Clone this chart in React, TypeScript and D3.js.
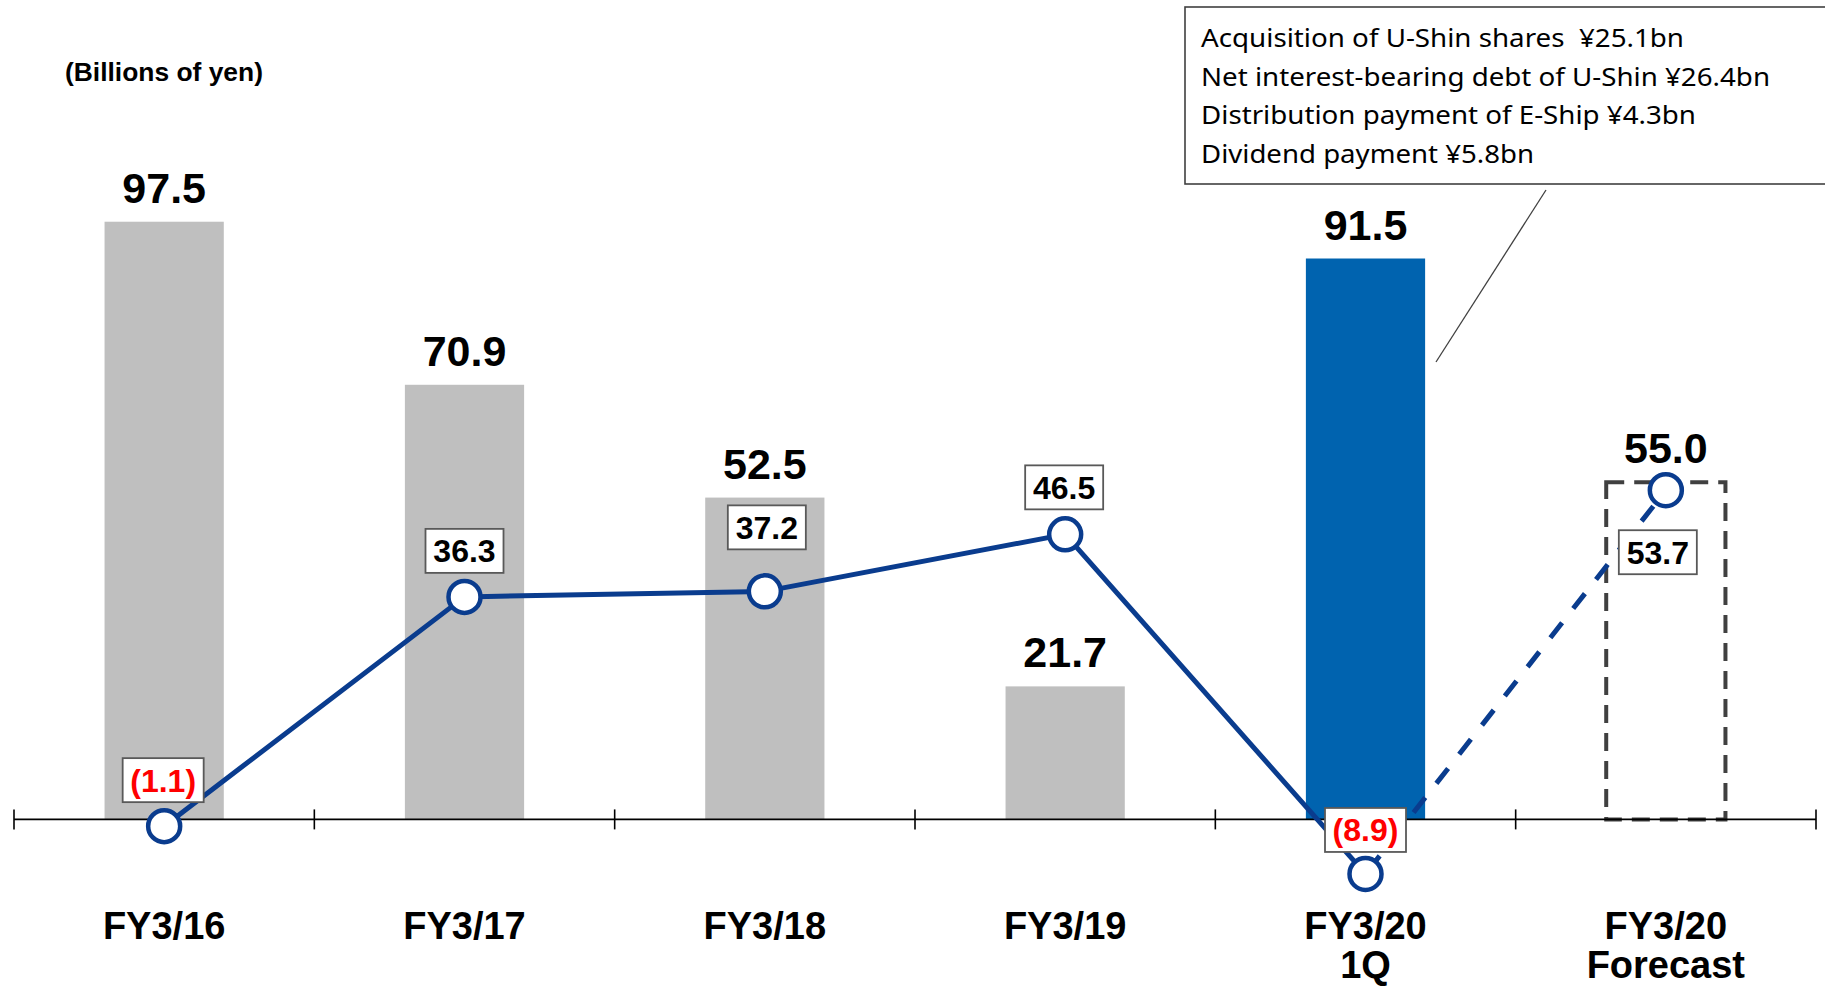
import React from "react";
import * as d3 from "d3";

const categories = ["FY3/16", "FY3/17", "FY3/18", "FY3/19", "FY3/20 1Q", "FY3/20 Forecast"];
const categoryLines = [["FY3/16"], ["FY3/17"], ["FY3/18"], ["FY3/19"], ["FY3/20", "1Q"], ["FY3/20", "Forecast"]];
const barValues = [97.5, 70.9, 52.5, 21.7, 91.5, 55.0];
const barKinds = ["past", "past", "past", "past", "current", "forecast"];
const lineValues = [-1.1, 36.3, 37.2, 46.5, -8.9, 53.7];
const lineLabels = ["(1.1)", "36.3", "37.2", "46.5", "(8.9)", "53.7"];
const barLabels = ["97.5", "70.9", "52.5", "21.7", "91.5", "55.0"];
const unitLabel = "(Billions of yen)";
const noteLines = [
  "Acquisition of U-Shin shares  ¥25.1bn",
  "Net interest-bearing debt of U-Shin ¥26.4bn",
  "Distribution payment of E-Ship ¥4.3bn",
  "Dividend payment ¥5.8bn",
];

const W = 1825;
const H = 987;
const BOLD = "'Liberation Sans', Arial, sans-serif";

export default function App() {
  React.useEffect(() => {
    document.body.style.margin = "0";
    document.body.style.overflow = "hidden";
  }, []);

  const x = d3.scaleBand<string>().domain(categories).range([14, 1816]).padding(0);
  const y = d3.scaleLinear().domain([0, 100]).range([819.4, 819.4 - 613]);
  const bw = x.bandwidth();
  const barW = bw * 0.397;
  const cx = (i: number) => (x(categories[i]) as number) + bw / 2;

  // label box offsets relative to the line points (layout only)
  const boxOffsets = [
    [-1, -46],
    [0, -46],
    [2, -64],
    [-1, -47],
    [0, -44],
    [-8, 62],
  ];
  // annotation line widths (layout only)
  const noteWidths = [483, 569, 495, 333];

  const pts = lineValues.map((v, i) => [cx(i), y(v)] as [number, number]);
  const lineGen = d3.line<[number, number]>().x((d) => d[0]).y((d) => d[1]);
  const solidPts = pts.slice(0, 5);
  const dashedPts = pts.slice(4, 6);

  const ticks = d3.range(categories.length + 1).map((i) => 14 + i * bw);

  const lineColor = "#0A3C8E";

  return (
    <svg width={W} height={H} style={{ position: "absolute", left: 0, top: 0, display: "block" }}>
      <rect x={0} y={0} width={W} height={H} fill="#fff" />

      {/* unit label */}
      <text x={65} y={81} fontFamily={BOLD} fontWeight="bold" fontSize={26.4} fill="#000">
        {unitLabel}
      </text>

      {/* bars */}
      {barValues.map((v, i) => {
        const kind = barKinds[i];
        const x0 = cx(i) - barW / 2;
        if (kind === "forecast") {
          return (
            <rect
              key={i}
              x={x0}
              y={y(v)}
              width={barW}
              height={y(0) - y(v)}
              fill="none"
              stroke="#404040"
              strokeWidth={4}
              strokeDasharray="18,10"
            />
          );
        }
        return (
          <rect
            key={i}
            x={x0}
            y={y(v)}
            width={barW}
            height={y(0) - y(v)}
            fill={kind === "current" ? "#0063AF" : "#BFBFBF"}
          />
        );
      })}

      {/* bar value labels */}
      {barValues.map((v, i) => (
        <text
          key={i}
          x={cx(i)}
          y={y(v) - 19}
          textAnchor="middle"
          fontFamily={BOLD}
          fontWeight="bold"
          fontSize={43}
          fill="#000"
        >
          {barLabels[i]}
        </text>
      ))}

      {/* axis */}
      <line x1={14} x2={1816} y1={y(0)} y2={y(0)} stroke="#000" strokeWidth={1.6} />
      {ticks.map((t, i) => (
        <line key={i} x1={t} x2={t} y1={y(0) - 10} y2={y(0) + 10} stroke="#000" strokeWidth={1.6} />
      ))}

      {/* category labels */}
      {categoryLines.map((lines, i) => (
        <text
          key={i}
          x={cx(i)}
          y={939}
          textAnchor="middle"
          fontFamily={BOLD}
          fontWeight="bold"
          fontSize={38}
          fill="#000"
        >
          {lines.map((l, j) => (
            <tspan key={j} x={cx(i)} dy={j === 0 ? 0 : 39}>
              {l}
            </tspan>
          ))}
        </text>
      ))}

      {/* line */}
      <path d={lineGen(solidPts) as string} fill="none" stroke={lineColor} strokeWidth={5} strokeLinejoin="round" />
      <path
        d={lineGen(dashedPts) as string}
        fill="none"
        stroke={lineColor}
        strokeWidth={5}
        strokeDasharray="19,18"
        strokeDashoffset={-4}
      />
      {pts.map((p, i) => (
        <circle key={i} cx={p[0]} cy={p[1]} r={16} fill="#fff" stroke={lineColor} strokeWidth={4.5} />
      ))}

      {/* line labels */}
      {pts.map((p, i) => {
        const label = lineLabels[i];
        const bx = p[0] + boxOffsets[i][0];
        const by = p[1] + boxOffsets[i][1];
        const w = label.length >= 5 ? 81 : 78;
        const h = 44;
        const neg = lineValues[i] < 0;
        return (
          <g key={i}>
            <rect x={bx - w / 2} y={by - h / 2} width={w} height={h} fill="#fff" stroke="#595959" strokeWidth={1.8} />
            <text
              x={bx}
              y={by + 11.5}
              textAnchor="middle"
              fontFamily={BOLD}
              fontWeight="bold"
              fontSize={32}
              fill={neg ? "#FF0000" : "#000"}
            >
              {label}
            </text>
          </g>
        );
      })}

      {/* annotation */}
      <rect x={1185} y={7} width={660} height={177} fill="#fff" stroke="#404040" strokeWidth={1.6} />
      {noteLines.map((t, i) => (
        <text
          key={i}
          x={1201}
          y={47 + i * 38.6}
          fontFamily="'Noto Sans', sans-serif"
          fontSize={25}
          fill="#000"
          textLength={noteWidths[i]}
          lengthAdjust="spacingAndGlyphs"
          style={{ whiteSpace: "pre" }}
        >
          {t}
        </text>
      ))}
      <line x1={1546} y1={190} x2={1436} y2={362} stroke="#404040" strokeWidth={1.3} />
    </svg>
  );
}
